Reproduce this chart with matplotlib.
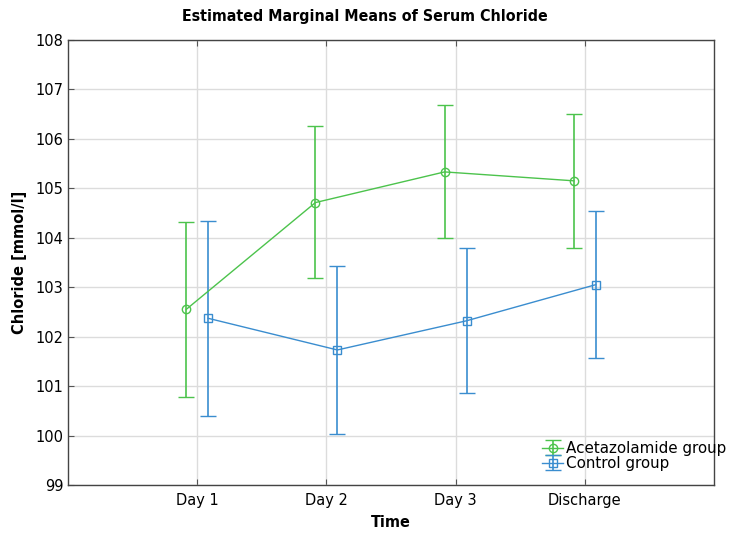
import matplotlib
matplotlib.use("Agg")
import matplotlib.pyplot as plt
import numpy as np

categories = ["Day 1", "Day 2", "Day 3", "Discharge"]

acet_mean = [102.55, 104.71, 105.33, 105.15]
acet_upper = [104.32, 106.25, 106.68, 106.50]
acet_lower = [100.78, 103.18, 104.00, 103.80]

ctrl_mean = [102.37, 101.73, 102.32, 103.05]
ctrl_upper = [104.33, 103.43, 103.80, 104.53]
ctrl_lower = [100.40, 100.03, 100.85, 101.57]

green = "#4cc34c"
blue = "#3a8dcf"

fig = plt.figure(figsize=(7.29, 5.35), dpi=100)
ax = fig.add_axes([0.0933, 0.0935, 0.886, 0.832])

x = np.arange(1, len(categories) + 1)
off = 0.085

def draw(xpos, mean, lo, hi, color, marker, label):
    mean = np.array(mean)
    yerr = np.vstack([mean - np.array(lo), np.array(hi) - mean])
    return ax.errorbar(xpos, mean, yerr=yerr, color=color, lw=1.0,
                       elinewidth=1.2, capsize=5.5, capthick=1.2,
                       marker=marker, markersize=6, markerfacecolor="none",
                       markeredgecolor=color, markeredgewidth=1.0, label=label)

h1 = draw(x - off, acet_mean, acet_lower, acet_upper, green, "o", "Acetazolamide group")
h2 = draw(x + off, ctrl_mean, ctrl_lower, ctrl_upper, blue, "s", "Control group")

ax.set_xlim(0, 5)
ax.set_ylim(99, 108)
ax.set_xticks(x)
ax.set_xticklabels(categories)
ax.set_yticks(np.arange(99, 109, 1))
ax.grid(True, color="#dcdcdc", lw=1.0)
ax.set_axisbelow(True)
ax.tick_params(direction="in", length=4, labelsize=10.5, top=True, right=False,
               color="#555555")
ax.tick_params(axis="x", pad=6)
for s in ax.spines.values():
    s.set_color("#444444")
    s.set_linewidth(1.0)

fig.text(0.5, 1 - 17 / 535, "Estimated Marginal Means of Serum Chloride",
         fontsize=11.4, fontweight="bold", fontstretch="condensed",
         ha="center", va="center")
ax.set_xlabel("Time", fontsize=11.5, fontweight="bold", fontstretch="condensed",
              labelpad=5)
ax.set_ylabel("Chloride [mmol/l]", fontsize=10.5, fontweight="bold", labelpad=6)

leg = ax.legend(handles=[h1, h2], loc="lower left",
                bbox_to_anchor=(542 / 729, (535 - 471) / 535),
                bbox_transform=fig.transFigure, frameon=False, fontsize=10.9,
                handlelength=1.4, handletextpad=0.2, borderpad=0,
                labelspacing=0.0, borderaxespad=0)

fig.savefig("out.png", dpi=100)
